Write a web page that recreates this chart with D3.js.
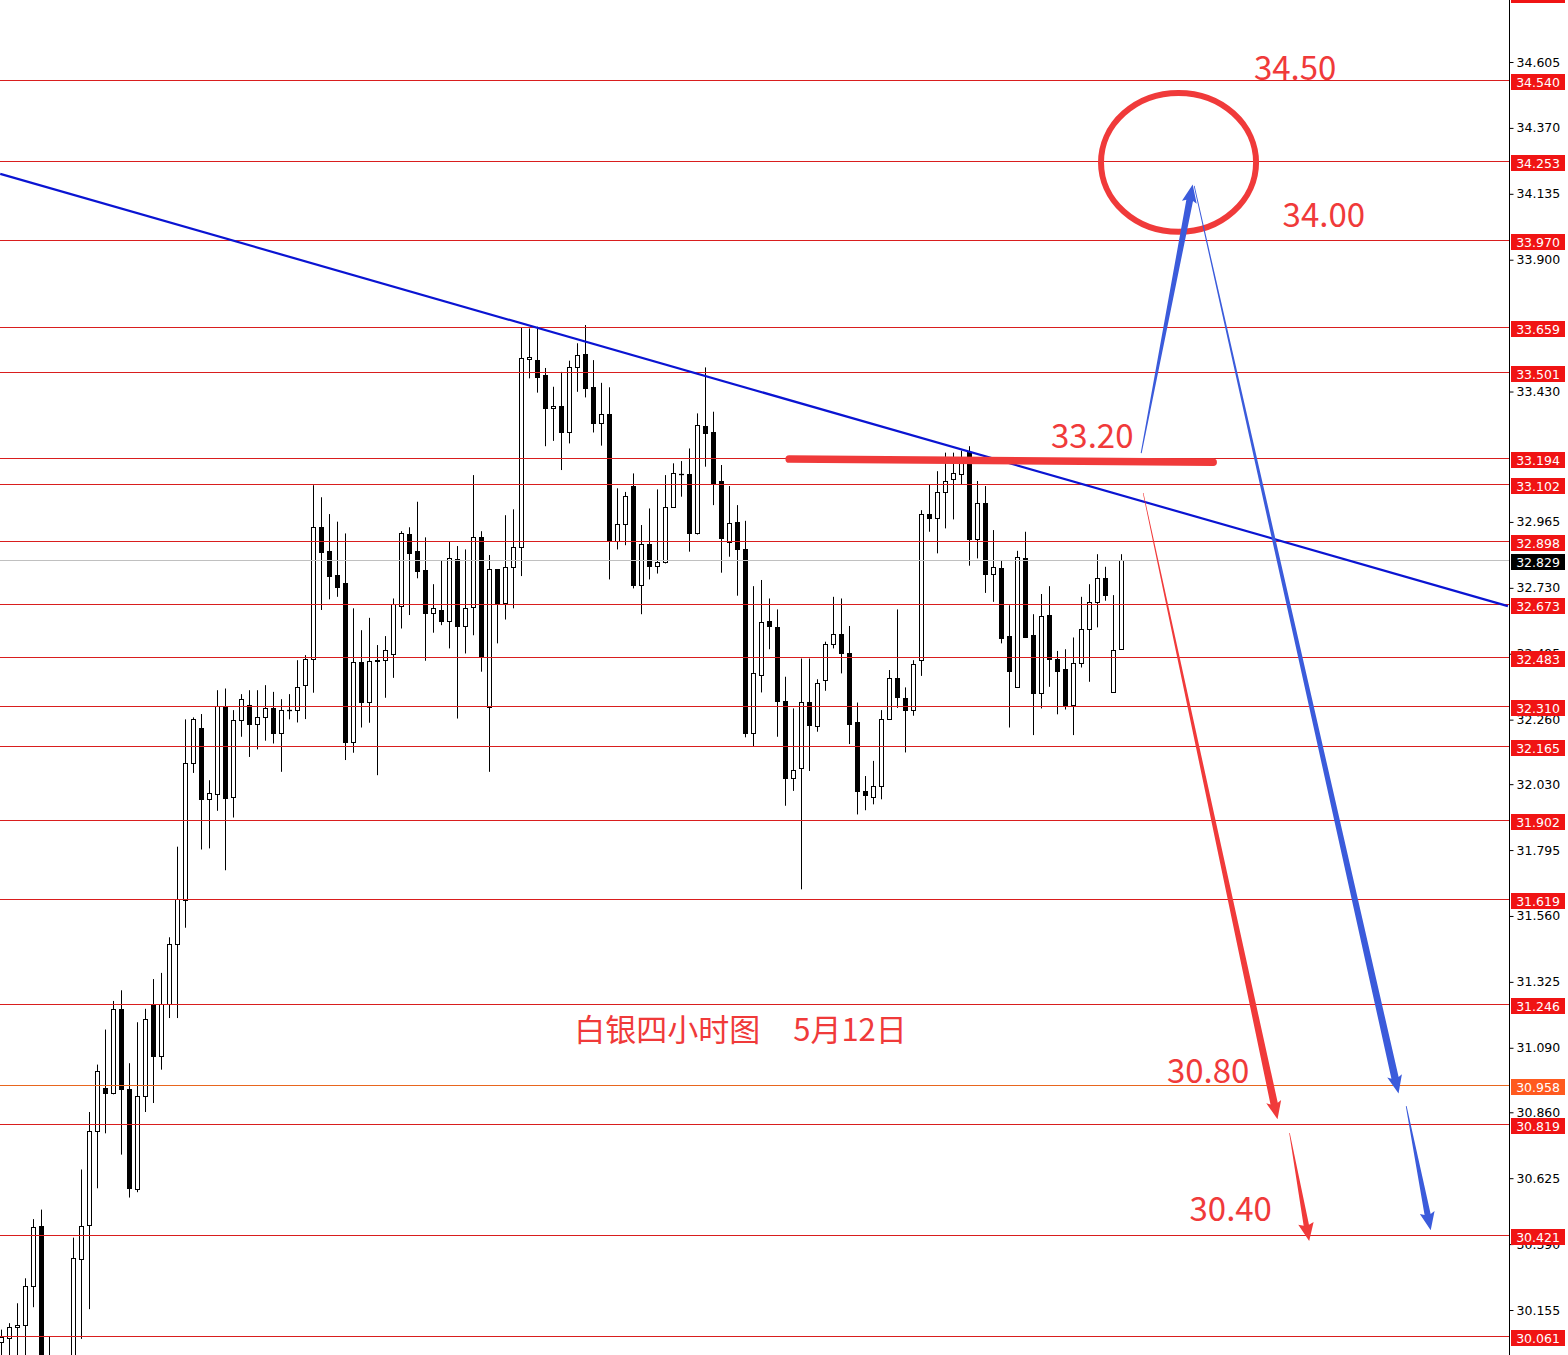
<!DOCTYPE html>
<html><head><meta charset="utf-8">
<script src="https://cdn.jsdelivr.net/npm/d3@7"></script>
<style>body{margin:0;background:#fff;overflow:hidden}svg{display:block}</style>
</head><body>
<svg id="c" width="1568" height="1355"></svg>
<script>
// ---- candle data (4h silver), index 0..140 ----
const opens = [30.040,30.054,30.094,30.103,30.241,30.454,29.900,29.880,29.930,29.960,
30.336,30.459,30.794,30.947,30.928,31.229,30.942,30.585,30.919,31.247,
31.062,31.247,31.461,31.618,32.104,32.229,31.976,31.994,32.308,31.983,
32.258,32.314,32.243,32.268,32.300,32.214,32.294,32.296,32.382,32.478,
32.948,32.861,32.775,32.749,32.179,32.466,32.324,32.470,32.472,32.493,
32.666,32.921,32.861,32.793,32.639,32.651,32.612,32.832,32.595,32.660,
32.910,32.304,32.796,32.677,32.803,32.876,33.545,33.542,33.489,33.370,
33.378,33.284,33.516,33.564,33.445,33.319,33.349,32.897,32.956,33.093,
32.740,32.888,32.809,32.821,33.017,33.135,33.136,32.926,33.307,33.285,
33.111,32.892,32.966,32.868,32.211,32.421,32.611,32.589,32.327,32.053,
32.086,32.322,32.238,32.401,32.529,32.565,32.496,32.250,32.005,31.983,
32.024,32.262,32.407,32.336,32.294,32.472,32.992,32.978,33.070,33.117,
33.136,33.215,32.903,33.031,32.781,32.799,32.558,32.375,32.835,32.561,
32.356,32.633,32.476,32.440,32.312,32.461,32.582,32.680,32.764,32.357,
32.511];
const highs = [30.085,30.108,30.179,30.268,30.479,30.513,30.060,29.970,29.985,30.413,
30.656,30.861,31.030,31.155,31.257,31.295,31.035,31.181,31.229,31.335,
31.357,31.484,31.807,32.261,32.268,32.280,32.044,32.365,32.371,32.294,
32.351,32.365,32.365,32.383,32.359,32.333,32.351,32.472,32.490,33.096,
33.053,32.993,32.966,32.924,32.657,32.579,32.623,32.526,32.558,32.692,
32.932,32.946,33.037,32.910,32.743,32.826,32.894,32.879,32.867,33.132,
32.932,32.847,32.796,32.989,33.010,33.659,33.655,33.661,33.514,33.447,
33.500,33.540,33.602,33.667,33.542,33.461,33.445,33.085,33.072,33.138,
32.954,33.013,33.081,33.132,33.174,33.182,33.227,33.352,33.516,33.358,
33.168,33.093,33.025,32.969,32.736,32.758,32.692,32.653,32.413,32.300,
32.478,32.478,32.404,32.538,32.698,32.692,32.594,32.321,32.059,32.113,
32.294,32.437,32.653,32.375,32.472,33.007,33.100,33.146,33.212,33.212,
33.219,33.235,33.111,33.093,32.936,32.829,32.668,32.862,32.930,32.636,
32.708,32.736,32.505,32.511,32.553,32.698,32.743,32.850,32.805,32.704,
32.850];
const lows = [29.950,29.950,29.960,29.970,30.165,29.850,29.820,29.800,29.850,29.900,
30.052,30.158,30.589,30.785,30.924,30.709,30.556,30.575,30.861,30.893,
31.012,31.196,31.196,31.518,32.070,31.797,31.801,31.935,31.723,31.911,
32.199,32.127,32.154,32.185,32.175,32.074,32.261,32.250,32.262,32.356,
32.651,32.689,32.698,32.116,32.142,32.232,32.249,32.062,32.338,32.409,
32.585,32.633,32.764,32.470,32.570,32.597,32.514,32.264,32.496,32.561,
32.431,32.074,32.532,32.617,32.657,32.772,33.477,33.426,33.235,33.254,
33.150,33.245,33.429,33.409,33.284,33.237,32.760,32.867,32.882,32.728,
32.636,32.760,32.781,32.817,33.017,33.055,32.859,32.920,33.162,33.025,
32.784,32.841,32.702,32.197,32.163,32.357,32.511,32.199,31.953,32.006,
31.655,32.077,32.217,32.363,32.514,32.425,32.173,31.922,31.937,31.958,
31.976,32.262,32.302,32.143,32.274,32.416,32.930,32.853,32.942,32.974,
33.099,32.809,32.835,32.712,32.680,32.532,32.232,32.375,32.553,32.205,
32.300,32.377,32.279,32.296,32.205,32.446,32.395,32.589,32.684,32.357,
32.511];
const closes = [30.060,30.094,30.103,30.241,30.451,29.900,29.880,29.930,29.960,30.340,
30.456,30.794,31.007,30.928,31.229,30.942,30.589,30.919,31.193,31.062,
31.247,31.461,31.621,32.105,32.262,31.976,31.997,32.308,31.979,32.258,
32.332,32.243,32.268,32.300,32.214,32.294,32.296,32.378,32.478,32.948,
32.859,32.773,32.734,32.179,32.464,32.324,32.470,32.472,32.510,32.672,
32.924,32.856,32.791,32.639,32.657,32.612,32.835,32.595,32.657,32.910,
32.482,32.796,32.677,32.803,32.876,33.548,33.554,33.483,33.370,33.378,
33.284,33.516,33.560,33.443,33.319,33.349,32.897,32.956,33.057,32.740,
32.888,32.809,32.821,33.017,33.138,33.136,32.926,33.310,33.281,33.105,
32.908,32.960,32.867,32.211,32.425,32.609,32.595,32.327,32.053,32.082,
32.324,32.240,32.389,32.529,32.565,32.496,32.243,32.005,31.993,32.024,
32.264,32.407,32.339,32.296,32.457,32.995,32.978,33.070,33.112,33.138,
33.188,32.903,33.031,32.781,32.803,32.550,32.434,32.839,32.555,32.356,
32.629,32.475,32.434,32.312,32.461,32.582,32.680,32.764,32.704,32.510,
32.829];

// ---- horizontal levels, axis ticks ----
const redLevels = [34.850,34.540,34.253,33.970,33.659,33.501,33.194,33.102,32.898,32.673,
32.483,32.310,32.165,31.902,31.619,31.246,30.819,30.421,30.061];
const orangeLevels = [30.958];
const bidLevels = [32.829];
const tickLabels = ["34.605","34.370","34.135","33.900","33.430","32.965",
"32.730","32.495","32.260","32.030","31.795","31.560","31.325","31.090","30.860","30.625","30.390","30.155"];

// ---- drawn annotations, in [bar index, price] ----
const trendLine = [[-0.16, 34.206], [188.3, 32.665]];
const markBar = [[98.46, 33.189], [151.46, 33.178]];
const targetCircle = [[147.13, 34.247], [156.82, 33.9995]]; // centre, corner of bounding quarter
const blueArrows = [[[142.46, 33.2105], [148.9, 34.168]],
                    [[149.09, 34.163], [174.63, 30.927]],
                    [[175.59, 30.882], [178.65, 30.4395]]];
const redArrows = [[[142.71, 33.068], [159.5, 30.835]],
                   [[161.0, 30.786], [163.46, 30.401]]];
const priceNotes = [[156.56, 34.541, "34.50"], [160.14, 34.016, "34.00"], [131.19, 33.228, "33.20"],
                    [145.68, 30.964, "30.80"], [148.5, 30.473, "30.40"]];
const titleNotes = [[71.59, 31.1135, "白银四小时图"], [98.96, 31.1135, "5月12日"]];

// ---- drawing ----
const W = 1568, H = 1355, AX = 1509.5;
const svg = d3.select("#c");
const x = d3.scaleLinear().domain([0, 140]).range([1.5, 1121.5]);
const y = d3.scaleLinear().domain([30.155, 34.605]).range([1310, 62]);
const crisp = v => Math.round(v) + 0.5;
const RED = "#f03a3a", BLUE = "#3b5bdb";

svg.append("rect").attr("width", W).attr("height", H).attr("fill", "#fff");

// candles
const candles = svg.append("g");
d3.range(opens.length).forEach(i => {
  const o = opens[i], c = closes[i], cx = x(i);
  candles.append("line").attr("x1", cx).attr("x2", cx)
    .attr("y1", y(highs[i])).attr("y2", y(lows[i]))
    .attr("stroke", "#000").attr("stroke-width", 1);
  const top = crisp(y(Math.max(o, c))), bot = crisp(y(Math.min(o, c)));
  const up = c >= o;
  if (bot - top < 1) {
    candles.append("line").attr("x1", cx - 2.5).attr("x2", cx + 2.5)
      .attr("y1", top).attr("y2", top).attr("stroke", "#000").attr("stroke-width", 1.3);
  } else {
    candles.append("rect").attr("x", cx - 2).attr("width", 4)
      .attr("y", top).attr("height", bot - top)
      .attr("fill", up ? "#fff" : "#000").attr("stroke", "#000").attr("stroke-width", 1);
  }
});

// axis
svg.append("line").attr("x1", AX).attr("x2", AX).attr("y1", 0).attr("y2", H)
  .attr("stroke", "#000").attr("stroke-width", 1);
const axis = d3.axisRight(y).tickValues(tickLabels.map(Number))
  .tickFormat((d, i) => tickLabels[i]).tickSize(4).tickPadding(3);
const ag = svg.append("g").attr("transform", `translate(${AX},0)`).call(axis);
ag.select(".domain").remove();
ag.selectAll("text").attr("font-family", "DejaVu Sans, Verdana, sans-serif")
  .attr("font-size", 12.5).attr("fill", "#000");
ag.selectAll("line").attr("stroke", "#000");

// level lines + labels
function level(p, lineCol, boxCol) {
  const yy = crisp(y(p));
  svg.append("line").attr("x1", 0).attr("x2", AX - 0.5).attr("y1", yy).attr("y2", yy)
    .attr("stroke", lineCol).attr("stroke-width", 1);
  svg.append("rect").attr("x", 1511).attr("y", yy - 6.5).attr("width", 54).attr("height", 16)
    .attr("fill", boxCol);
  if (yy > 8) {
    svg.append("text").attr("x", 1538).attr("y", yy + 1.5).attr("text-anchor", "middle")
      .attr("dominant-baseline", "central")
      .attr("font-family", "DejaVu Sans, Verdana, sans-serif").attr("font-size", 12.5)
      .attr("fill", "#fff").text(p.toFixed(3));
  }
}
bidLevels.forEach(p => level(p, "#c0c0c0", "#000"));
redLevels.forEach(p => level(p, "#d91e1e", "#f01414"));
orangeLevels.forEach(p => level(p, "#e8661e", "#ff5a1f"));

// trend line
svg.append("line")
  .attr("x1", x(trendLine[0][0])).attr("y1", y(trendLine[0][1]))
  .attr("x2", x(trendLine[1][0])).attr("y2", y(trendLine[1][1]))
  .attr("stroke", "#0a14d2").attr("stroke-width", 2.2);

// marker bar at 33.20
svg.append("line")
  .attr("x1", x(markBar[0][0])).attr("y1", y(markBar[0][1]))
  .attr("x2", x(markBar[1][0])).attr("y2", y(markBar[1][1]))
  .attr("stroke", RED).attr("stroke-width", 7.5).attr("stroke-linecap", "round");

// target ellipse
{
  const cx = x(targetCircle[0][0]), cy = y(targetCircle[0][1]);
  svg.append("ellipse").attr("cx", cx).attr("cy", cy)
    .attr("rx", x(targetCircle[1][0]) - cx).attr("ry", y(targetCircle[1][1]) - cy)
    .attr("fill", "none").attr("stroke", RED).attr("stroke-width", 6);
}

// tapered arrows
function arrowPath(s, t, w0, w1, hl, hw) {
  const dx = t[0] - s[0], dy = t[1] - s[1], L = Math.hypot(dx, dy);
  const ux = dx / L, uy = dy / L, nx = -uy, ny = ux;
  const bx = t[0] - ux * hl, by = t[1] - uy * hl;
  const pts = [[s[0] + nx * w0, s[1] + ny * w0], [bx + nx * w1, by + ny * w1],
    [bx + nx * hw - ux * 2, by + ny * hw - uy * 2], t,
    [bx - nx * hw - ux * 2, by - ny * hw - uy * 2], [bx - nx * w1, by - ny * w1],
    [s[0] - nx * w0, s[1] - ny * w0]];
  return d3.line()(pts) + "Z";
}
const blueStyle = [[0.5, 3.4, 16, 7.5], [0.4, 3.7, 16, 7.5], [0.4, 3.1, 16, 7.5]];
const redStyle = [[0.3, 3.7, 16, 7.6], [0.3, 2.7, 16, 7.8]];
blueArrows.forEach((a, i) => {
  const s = [x(a[0][0]), y(a[0][1])], t = [x(a[1][0]), y(a[1][1])];
  svg.append("path").attr("d", arrowPath(s, t, ...blueStyle[i])).attr("fill", BLUE);
});
redArrows.forEach((a, i) => {
  const s = [x(a[0][0]), y(a[0][1])], t = [x(a[1][0]), y(a[1][1])];
  svg.append("path").attr("d", arrowPath(s, t, ...redStyle[i])).attr("fill", RED);
});

// texts
priceNotes.forEach(n => {
  svg.append("text").attr("x", x(n[0])).attr("y", y(n[1]))
    .attr("font-family", "'Noto Sans CJK SC', 'Noto Sans', sans-serif")
    .attr("font-size", 33).attr("fill", RED).text(n[2]);
});
titleNotes.forEach(n => {
  svg.append("text").attr("x", x(n[0])).attr("y", y(n[1]))
    .attr("font-family", "'Noto Sans CJK SC', sans-serif")
    .attr("font-size", 31).attr("fill", RED).text(n[2]);
});
</script>
</body></html>
